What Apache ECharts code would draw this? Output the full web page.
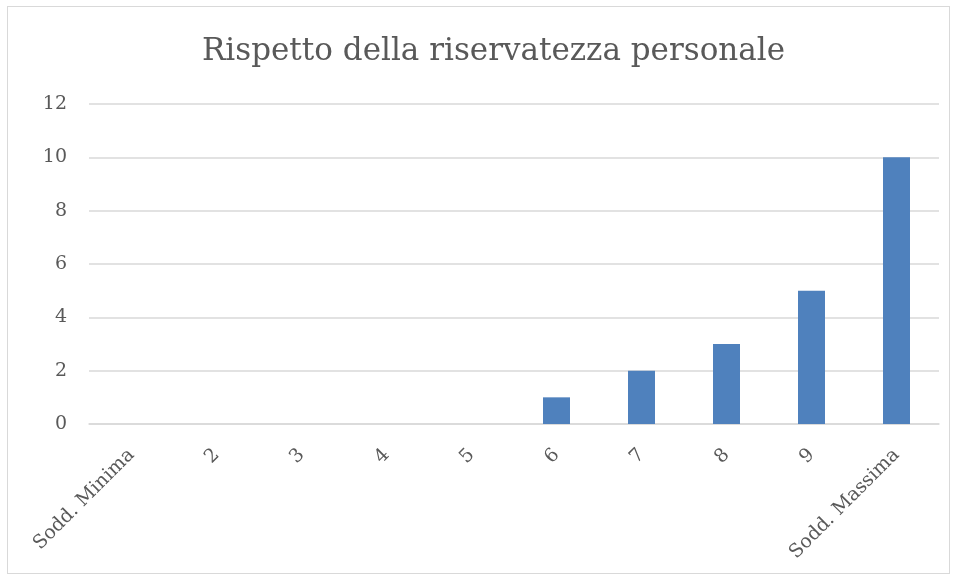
<!DOCTYPE html>
<html><head><meta charset="utf-8">
<script src="https://cdn.jsdelivr.net/npm/echarts@6/dist/echarts.min.js"></script>
<style>html,body{margin:0;padding:0;background:#fff}#c{width:959px;height:581px}
#b{position:absolute;left:7px;top:6px;width:943px;height:568px;border:1px solid #D9D9D9;box-sizing:border-box;pointer-events:none}</style>
</head><body><div id="c"></div><div id="b"></div>
<script>
const title = 'Rispetto della riservatezza personale';
const categories = ['Sodd. Minima','2','3','4','5','6','7','8','9','Sodd. Massima'];
const values = [0,0,0,0,0,1,2,3,5,10];
const yTicks = {min:0, max:12, interval:2};
const font = 'DejaVu Serif';
const chart = echarts.init(document.getElementById('c'));
chart.setOption({
  animation:false,
  title:{text:title,left:197,top:31,textStyle:{fontFamily:font,fontSize:31,fontWeight:'normal',color:'#595959'}},
  grid:{left:89,right:20,top:104,bottom:157,containLabel:false},
  xAxis:{type:'category',data:categories,
    axisLine:{lineStyle:{color:'#D9D9D9',width:1.5}},axisTick:{show:false},
    axisLabel:{interval:0,rotate:45,margin:28,fontFamily:font,fontSize:19,color:'#595959'}},
  yAxis:{type:'value',min:yTicks.min,max:yTicks.max,interval:yTicks.interval,
    axisLine:{show:false},axisTick:{show:false},
    splitLine:{lineStyle:{color:'#D9D9D9',width:1.5}},
    axisLabel:{margin:22,fontFamily:font,fontSize:19,color:'#595959'}},
  series:[{type:'bar',data:values,barWidth:27,itemStyle:{color:'#4F81BD'}}]
});
</script></body></html>
